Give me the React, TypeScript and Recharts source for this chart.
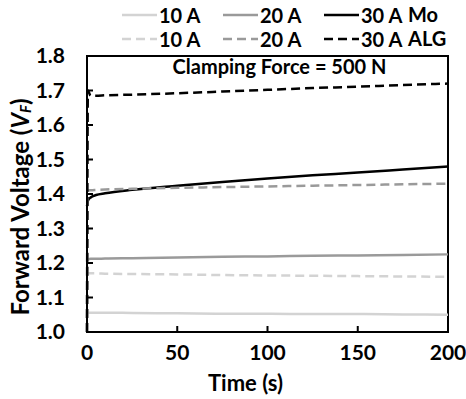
import React from "react";
import {
  LineChart, Line, XAxis, YAxis, ReferenceArea, Label,
} from "recharts";

const time = [0, 0.5, 2, 5, 10, 25, 50, 75, 100, 125, 150, 175, 200];

const mo10 = [1.056, 1.056, 1.056, 1.056, 1.056, 1.055, 1.054, 1.053, 1.053, 1.052, 1.052, 1.051, 1.05];
const mo20 = [1.21, 1.211, 1.212, 1.212, 1.213, 1.214, 1.216, 1.218, 1.219, 1.221, 1.222, 1.223, 1.225];
const mo30 = [1.365, 1.38, 1.39, 1.397, 1.402, 1.412, 1.424, 1.435, 1.445, 1.454, 1.462, 1.471, 1.48];
const alg10 = [1.0, 1.17, 1.17, 1.17, 1.169, 1.168, 1.167, 1.165, 1.164, 1.163, 1.162, 1.161, 1.16];
const alg20 = [1.0, 1.41, 1.411, 1.412, 1.413, 1.415, 1.418, 1.42, 1.422, 1.424, 1.426, 1.428, 1.43];
const alg30 = [1.0, 1.7, 1.685, 1.685, 1.686, 1.688, 1.692, 1.697, 1.702, 1.707, 1.711, 1.716, 1.72];

const yTicks = [1.0, 1.1, 1.2, 1.3, 1.4, 1.5, 1.6, 1.7, 1.8];
const xTicks = [0, 50, 100, 150, 200];

const currents = ["10 A", "20 A", "30 A"];
const shades = ["#d3d3d3", "#9a9a9a", "#000000"];
const groups = ["Mo", "ALG"];

const data = time.map((t, i) => ({
  t,
  mo10: mo10[i], mo20: mo20[i], mo30: mo30[i],
  alg10: alg10[i], alg20: alg20[i], alg30: alg30[i],
}));

const seriesKeys = [
  ["mo10", "mo20", "mo30"],
  ["alg10", "alg20", "alg30"],
];

const FONT = "Lato, 'Open Sans', sans-serif";
const tickStyle = { fill: "#000", fontSize: 21, fontWeight: 700, fontFamily: FONT };

function YLabel({ viewBox }: any) {
  const cx = 19;
  const cy = viewBox.y + viewBox.height / 2 + 13;
  return (
    <text
      x={cx}
      y={cy}
      transform={`rotate(-90 ${cx} ${cy})`}
      textAnchor="middle"
      dominantBaseline="central"
      fontSize={24}
      fontWeight={700}
      fontFamily={FONT}
      fill="#000"
    >
      Forward Voltage (<tspan fontStyle="italic">V</tspan>
      <tspan fontStyle="italic" fontSize={15} dy={6}>F</tspan>
      <tspan dy={-6}>)</tspan>
    </text>
  );
}

function LegendBlock() {
  return (
    <div style={{ position: "absolute", left: 0, top: 0, width: 466, height: 52, fontFamily: FONT, fontWeight: 700, fontSize: 20 }}>
      {groups.map((g, r) => (
        <div key={g}>
          {currents.map((c, i) => (
            <div
              key={c}
              style={{ position: "absolute", left: 122 + i * 101, top: 3 + r * 24, display: "flex", alignItems: "center", height: 24 }}
            >
              <svg width={35} height={8}>
                <line x1={0} y1={4} x2={35} y2={4} stroke={shades[i]} strokeWidth={2.5}
                  strokeDasharray={r === 1 ? "9 5" : undefined} />
              </svg>
              <span style={{ marginLeft: 2 }}>{c}</span>
            </div>
          ))}
          <div style={{ position: "absolute", left: 408, top: 2 + r * 24, height: 24 }}>{g}</div>
        </div>
      ))}
    </div>
  );
}

export default function App() {
  return (
    <div style={{ position: "absolute", left: 0, top: 0, width: 466, height: 399, background: "#fff" }}>
      <LegendBlock />
      <LineChart
        width={466}
        height={399}
        data={data}
        margin={{ top: 56, right: 18, bottom: 0, left: 0 }}
        style={{ position: "absolute", left: 0, top: 0 }}
      >
        <XAxis
          dataKey="t"
          type="number"
          domain={[0, 200]}
          ticks={xTicks}
          height={67}
          tickSize={-6}
          tickMargin={19}
          axisLine={{ stroke: "#000", strokeWidth: 2 }}
          tickLine={{ stroke: "#000", strokeWidth: 2 }}
          tick={tickStyle}
        >
          <Label value="Time (s)" position="insideBottom" offset={8} dx={-22}
            style={{ fill: "#000", fontSize: 22, fontWeight: 700, fontFamily: FONT }} />
        </XAxis>
        <YAxis
          type="number"
          domain={[1.0, 1.8]}
          ticks={yTicks}
          width={87}
          tickSize={-6}
          tickMargin={28}
          tickFormatter={(v: number) => v.toFixed(1)}
          axisLine={{ stroke: "#000", strokeWidth: 2 }}
          tickLine={{ stroke: "#000", strokeWidth: 2 }}
          tick={tickStyle}
          label={{ content: YLabel } as any}
        />
        <ReferenceArea x1={0} x2={200} y1={1.0} y2={1.8} fill="none" stroke="#000" strokeWidth={2}>
          <Label value="Clamping Force = 500 N" position="insideTop" offset={4} dx={12}
            style={{ fill: "#000", fontSize: 20, fontWeight: 700, fontFamily: FONT }} />
        </ReferenceArea>
        {seriesKeys.map((keys, r) =>
          keys.map((k, i) => (
            <Line
              key={k}
              dataKey={k}
              type="monotone"
              stroke={shades[i]}
              strokeWidth={2.5}
              strokeDasharray={r === 1 ? "9 5" : undefined}
              dot={false}
              isAnimationActive={false}
            />
          ))
        )}
      </LineChart>
    </div>
  );
}
